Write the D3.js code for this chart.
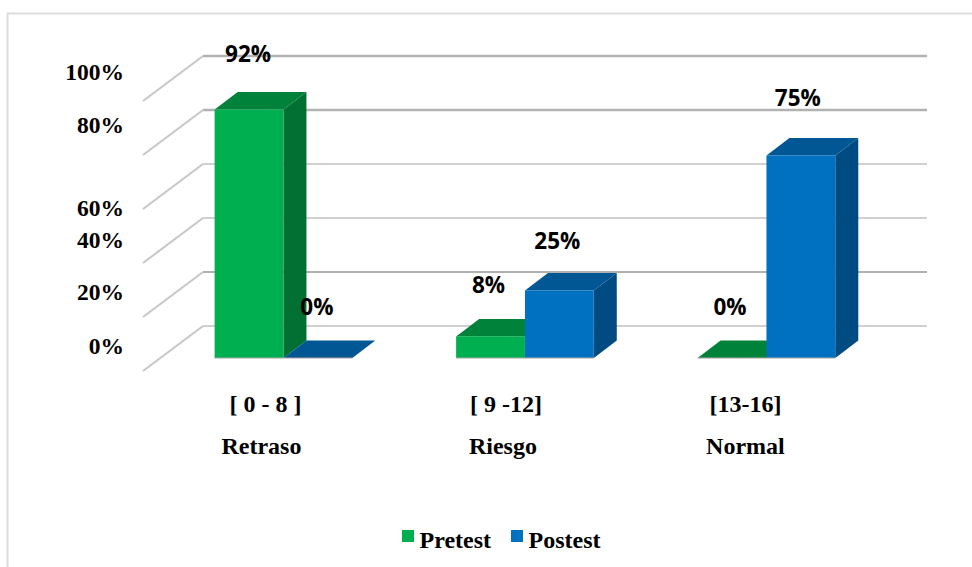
<!DOCTYPE html>
<html>
<head>
<meta charset="utf-8">
<script src="https://cdn.jsdelivr.net/npm/d3@7"></script>
<style>
  html, body { margin: 0; padding: 0; background: #fff; }
  svg { display: block; }
</style>
</head>
<body>
<svg id="chart"></svg>
<script>
// values
const ranges = ["[ 0 - 8 ]", "[ 9 -12]", "[13-16]"];
const categories = ["Retraso", "Riesgo", "Normal"];
const seriesNames = ["Pretest", "Postest"];
const pretest = [92, 8, 0];
const postest = [0, 25, 75];
const ticks = [0, 20, 40, 60, 80, 100];

const width = 972, height = 567;
const colors = {
  Pretest: { front: "#00b050", top: "#00823b", side: "#037033" },
  Postest: { front: "#0070c0", top: "#005793", side: "#004b82" }
};

// the 3d floor: wall depth and how far the bars sit in from the back wall
const wallDx = 60, wallDy = 45;
const barDx = 23, barDy = 17.5;
const backLeft = 203, backRight = 927;

const svg = d3.select("#chart")
    .attr("width", width)
    .attr("height", height)
    .attr("viewBox", [0, 0, width, height]);

const yWall = d3.scaleLinear().domain([0, 100]).range([326, 56]);
const yBar = d3.scaleLinear().domain([0, 100]).range([358, 88]);
const x0 = d3.scaleBand().domain(categories).range([162.7, 887.2])
    .paddingInner(0.43).paddingOuter(0.215);
const x1 = d3.scaleBand().domain(seriesNames).range([0, x0.bandwidth()]);

// outer frame, only the left and top edges show in the crop
svg.append("path")
    .attr("fill", "none")
    .attr("stroke", "#dcdcdc")
    .attr("stroke-width", 2)
    .attr("d", `M7.5,${height}V13.5H${width}`);

// gridlines on the back wall + the slanted side wall
// (some come out darker in the original because of its resampling)
const gridDark = { 0: false, 20: false, 40: false, 60: false, 80: true, 100: true };
const grid = svg.append("g").attr("fill", "none");
grid.selectAll(".slant")
  .data(ticks)
  .join("path")
    .attr("class", "slant")
    .attr("stroke", "#c6c6c6")
    .attr("stroke-width", 2)
    .attr("d", d => `M${backLeft - wallDx},${yWall(d) + wallDy}L${backLeft},${yWall(d)}`);
grid.selectAll(".back")
  .data(ticks)
  .join("path")
    .attr("class", "back")
    .attr("stroke", d => gridDark[d] ? "#b2b2b2" : "#d0d0d0")
    .attr("stroke-width", d => gridDark[d] ? 2.6 : 2)
    .attr("d", d => `M${backLeft},${yWall(d)}H${backRight}`);
grid.append("path")
    .attr("stroke", "#8f8f8f")
    .attr("stroke-width", 1.2)
    .attr("d", `M${backLeft},${yWall(20)}H${backRight}`);

// bars
const bars = categories.flatMap((c, i) => [
  { category: c, series: "Pretest", value: pretest[i] },
  { category: c, series: "Postest", value: postest[i] }
]);

const bar = svg.append("g").selectAll("g")
  .data(bars)
  .join("g")
    .attr("transform", d => `translate(${x0(d.category) + x1(d.series)},0)`);

const w = x1.bandwidth();

bar.append("path") // side
    .attr("fill", d => colors[d.series].side)
    .attr("d", d => `M${w},${yBar(d.value)}l${barDx},${-barDy}V${yBar(0) - barDy}l${-barDx},${barDy}Z`);
bar.append("path") // top
    .attr("fill", d => colors[d.series].top)
    .attr("d", d => `M0,${yBar(d.value)}l${barDx},${-barDy}h${w}l${-barDx},${barDy}Z`);
bar.append("rect") // front
    .attr("fill", d => colors[d.series].front)
    .attr("x", 0)
    .attr("width", w)
    .attr("y", d => yBar(d.value))
    .attr("height", d => yBar(0) - yBar(d.value));
bar.append("path") // thin grey edge along the floor
    .attr("stroke", "#a6a6a6")
    .attr("stroke-width", 1)
    .attr("d", d => `M0,${yBar(0)}h${w}`);

// y axis labels, hand placed in the original so they do not line up with the grid
const tickNudge = { 0: -25, 20: -25, 40: -23, 60: -1, 80: -30, 100: -29 };
const yAxis = d3.axisLeft(yWall).tickValues(ticks).tickFormat(d => d + "%").tickSize(0);
svg.append("g")
    .attr("transform", "translate(127,45)")
    .call(yAxis)
    .call(g => g.select(".domain").remove())
    .call(g => g.selectAll(".tick text")
        .attr("x", 0)
        .attr("dy", "0.32em")
        .attr("transform", d => `translate(-3,${tickNudge[d]})`)
        .attr("fill", "#000")
        .attr("font-family", "'Liberation Serif'")
        .attr("font-weight", "bold")
        .attr("font-size", 23.5));

// value labels
const labelNudge = [[-1, -55], [-1, -51], [-2, -51], [-2, -49], [-2, -51], [-3, -57]];
svg.append("g")
    .attr("font-family", "'Open Sans'")
    .attr("font-weight", "bold")
    .attr("font-size", 22.5)
    .attr("text-anchor", "middle")
    .attr("fill", "#000")
  .selectAll("text")
  .data(bars)
  .join("text")
    .attr("x", (d, i) => x0(d.category) + x1(d.series) + w / 2 + labelNudge[i][0])
    .attr("y", (d, i) => yBar(d.value) + labelNudge[i][1])
    .attr("dy", "0.35em")
    .text(d => d.value + "%");

// category labels, two rows
const rangeNudge = [-18, -19, -21], nameNudge = [-22, -22, -21];
const catLabels = svg.append("g")
    .attr("font-family", "'Liberation Serif'")
    .attr("font-weight", "bold")
    .attr("font-size", 24)
    .attr("text-anchor", "middle")
    .attr("fill", "#000");
catLabels.selectAll(".range")
  .data(ranges)
  .join("text")
    .attr("class", "range")
    .attr("x", (d, i) => x0(categories[i]) + x0.bandwidth() / 2 + rangeNudge[i])
    .attr("y", 412)
    .text(d => d);
catLabels.selectAll(".name")
  .data(categories)
  .join("text")
    .attr("class", "name")
    .attr("x", (d, i) => x0(d) + x0.bandwidth() / 2 + nameNudge[i])
    .attr("y", 454)
    .text(d => d);

// legend
const legendX = d3.scaleOrdinal().domain(seriesNames).range([402, 511]);
const legend = svg.append("g").selectAll("g")
  .data(seriesNames)
  .join("g")
    .attr("transform", d => `translate(${legendX(d)},530)`);
legend.append("rect")
    .attr("width", 12)
    .attr("height", 12)
    .attr("fill", d => colors[d].front);
legend.append("text")
    .attr("x", 17.5)
    .attr("y", 18)
    .attr("font-family", "'Liberation Serif'")
    .attr("font-weight", "bold")
    .attr("font-size", 24)
    .attr("fill", "#000")
    .text(d => d);
</script>
</body>
</html>
